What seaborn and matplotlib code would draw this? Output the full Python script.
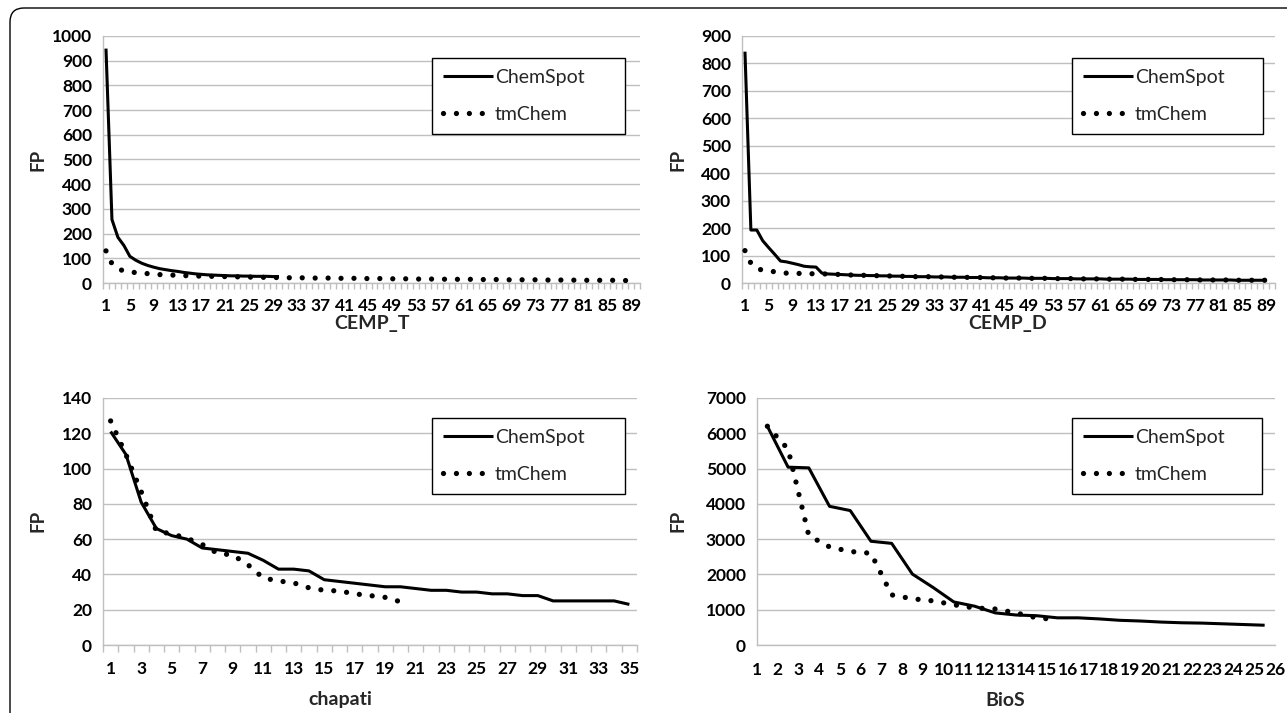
import matplotlib
matplotlib.use("Agg")
import matplotlib.pyplot as plt
import seaborn as sns
import pandas as pd
import numpy as np
from matplotlib.patches import FancyBboxPatch
from matplotlib.transforms import IdentityTransform
from matplotlib.ticker import FixedLocator, NullFormatter

# ---------------- data ----------------
series_names = ["ChemSpot", "tmChem"]

cemp_t_chemspot = [949, 257, 185, 152, 108, 92, 80, 71, 64, 58, 54, 50, 47, 43, 40,
                   37, 35, 33, 32, 31, 30, 29, 29, 28, 28, 27, 27, 27, 26, 26]
cemp_t_tmchem = [130, 78, 57, 49, 45, 42, 40, 38, 36, 34, 33, 32, 31, 30, 29,
                 28, 28, 27, 27, 26, 26, 25, 25, 24, 24, 23, 23, 23, 22, 22,
                 22, 21, 21, 21, 21, 20, 20, 20, 20, 19, 19, 19, 19, 18, 18,
                 18, 18, 17, 17, 17, 17, 17, 16, 16, 16, 16, 16, 15, 15, 15,
                 15, 15, 14, 14, 14, 14, 14, 13, 13, 13, 13, 13, 13, 12, 12,
                 12, 12, 12, 12, 11, 11, 11, 11, 11, 11, 11, 10, 10, 10, 10]

cemp_d_chemspot = [843, 193, 193, 154, 129, 105, 80, 77, 72, 67, 61, 59, 58, 36,
                   33, 32, 31, 30, 29, 28, 28, 27, 27, 26, 26, 25, 25, 24, 24, 23,
                   23, 23, 22, 22, 22, 21, 21, 21, 20, 20, 20, 19, 19, 19, 18,
                   18, 18, 18, 17, 17, 17, 17, 16, 16, 16, 16, 15, 15, 15, 15,
                   15, 14, 14, 14, 14, 14, 13, 13, 13, 13, 13, 12, 12, 12, 12,
                   12, 12, 11, 11, 11, 11, 11, 11, 10, 10, 10, 10, 10, 10]
cemp_d_tmchem = [118, 72, 52, 47, 44, 41, 38, 36, 35, 35, 34, 34, 33, 33,
                 33, 32, 31, 30, 29, 28, 28, 27, 27, 26, 26, 25, 25, 24, 24, 23,
                 23, 23, 22, 22, 22, 21, 21, 21, 20, 20, 20, 19, 19, 19, 18,
                 18, 18, 18, 17, 17, 17, 17, 16, 16, 16, 16, 15, 15, 15, 15,
                 15, 14, 14, 14, 14, 14, 13, 13, 13, 13, 13, 12, 12, 12, 12,
                 12, 12, 11, 11, 11, 11, 11, 11, 10, 10, 10, 10, 10, 10]

chapati_chemspot = [121, 108, 81, 66, 62, 60, 55, 54, 53, 52, 48, 43, 43, 42, 37,
                    36, 35, 34, 33, 33, 32, 31, 31, 30, 30, 29, 29, 28, 28, 25,
                    25, 25, 25, 25, 23]
chapati_tmchem = [127, 108, 87, 64.5, 63, 60.5, 57, 52, 51, 45.5, 38, 36.3, 35.2,
                  32.4, 31, 30.6, 29, 28, 27, 24.5]

bios_chemspot = [6200, 5040, 5020, 3930, 3810, 2940, 2880, 2010, 1630, 1220, 1100,
                 910, 850, 830, 770, 770, 740, 700, 680, 650, 630, 620, 600, 580, 560]
bios_tmchem = [6200, 5550, 3100, 2780, 2650, 2600, 1420, 1310, 1250, 1140, 1050,
               1020, 910, 770, 720]

panel_titles = ["CEMP_T", "CEMP_D", "chapati", "BioS"]
y_ticks_list = [list(range(0, 1001, 100)), list(range(0, 901, 100)),
                list(range(0, 141, 20)), list(range(0, 7001, 1000))]

# ---------------- style ----------------
sns.set_style("white")
plt.rcParams["font.family"] = ["Lato", "DejaVu Sans"]

W, H = 1287, 713
fig = plt.figure(figsize=(W / 100, H / 100), dpi=100)

GRID = "#BFBFBF"


def axes_rect(l, r, t, b):
    return [l / W, (H - b) / H, (r - l) / W, (b - t) / H]


rect_px = [(103, 640, 36, 283), (742, 1275, 36, 283),
           (103, 637, 398, 645), (757, 1275, 398, 645)]
rects = [axes_rect(*r) for r in rect_px]

data = [(cemp_t_chemspot, cemp_t_tmchem), (cemp_d_chemspot, cemp_d_tmchem),
        (chapati_chemspot, chapati_tmchem), (bios_chemspot, bios_tmchem)]

n_cats = [90, 90, 35, 25]
label_step = [4, 4, 2, 1]
# pixel positions of axis titles
xtitle_pos = [(372, 324), (1008, 324), (340, 700), (1005, 700)]
fp_pos = [(38, 160), (678, 160), (38, 521), (678, 521)]
# legend boxes in pixels: left, right, top
leg_px = [(432, 625, 58), (1072, 1263, 58), (432, 625, 418), (1072, 1262, 418)]

TICK_FS = 12.5

for i, ax_rect in enumerate(rects):
    ax = fig.add_axes(ax_rect)
    cs, tm = data[i]
    n = n_cats[i]
    offset = 0.5 if i == 3 else 0.0  # BioS: points between label ticks
    df_cs = pd.DataFrame({"x": np.arange(1, len(cs) + 1) + offset, "FP": cs})
    df_tm = pd.DataFrame({"x": np.arange(1, len(tm) + 1) + offset, "FP": tm})
    sns.lineplot(data=df_cs, x="x", y="FP", ax=ax, color="black", lw=2.2,
                 label=series_names[0], zorder=3)
    sns.lineplot(data=df_tm, x="x", y="FP", ax=ax, color="black", lw=3.8,
                 label=series_names[1], zorder=4)
    l_tm = ax.lines[-1]
    l_tm.set_linestyle((0, (0.001, 2.45)))
    l_tm.set_dash_capstyle("round")
    ax.lines[0].set_solid_capstyle("butt")

    yt = y_ticks_list[i]
    ax.set_ylim(yt[0], yt[-1])
    ax.set_yticks(yt)
    ax.yaxis.grid(True, color=GRID, lw=1.0)
    ax.set_axisbelow(True)

    if i == 3:
        ax.set_xlim(1, 26)
        ax.set_xticks(range(1, 27))
        ax.set_xticklabels([str(k) for k in range(1, 27)])
        ax.tick_params(axis="x", which="major", length=5, width=1, color=GRID,
                       pad=7.5)
    else:
        ax.set_xlim(0.5, n + 0.5)
        labs = list(range(1, n + 1, label_step[i]))
        ax.set_xticks(labs)
        ax.set_xticklabels([str(k) for k in labs])
        ax.xaxis.set_minor_locator(FixedLocator(np.arange(0.5, n + 1.0, 1.0)))
        ax.xaxis.set_minor_formatter(NullFormatter())
        ax.tick_params(axis="x", which="major", length=0,
                       pad=10.5 if n > 50 else 11.5)
        ax.tick_params(axis="x", which="minor", length=5 if n < 50 else 4,
                       width=1, color=GRID, direction="out", bottom=True)

    ax.tick_params(axis="y", length=4, width=1, color=GRID, pad=4)
    for lab in ax.get_xticklabels() + ax.get_yticklabels():
        lab.set_fontweight("bold")
        lab.set_fontsize(TICK_FS)
        lab.set_color("black")

    for s in ["top", "right"]:
        ax.spines[s].set_visible(False)
    for s in ["left", "bottom"]:
        ax.spines[s].set_color(GRID)
        ax.spines[s].set_linewidth(1.0)

    ax.set_ylabel("")
    ax.set_xlabel("")
    tx, ty = xtitle_pos[i]
    fig.text(tx / W, 1 - ty / H, panel_titles[i], fontsize=14, fontweight="bold",
             ha="center", va="center")
    fx, fy = fp_pos[i]
    fig.text(fx / W, 1 - fy / H, "FP", fontsize=13.5, fontweight="bold",
             ha="center", va="center", rotation=90)

    al, ar, at, ab = rect_px[i]
    ll, lr, lt = leg_px[i]
    x0 = (ll - al) / (ar - al)
    wfrac = (lr - ll) / (ar - al)
    y1 = (ab - lt) / (ab - at)
    leg = ax.legend(loc="upper left", bbox_to_anchor=(x0, y1 - 0.4, wfrac, 0.4),
                    mode="expand", frameon=True, fancybox=False, framealpha=1,
                    edgecolor="black", fontsize=14, handlelength=2.55,
                    handletextpad=0.12, labelspacing=1.0, borderpad=0.57,
                    borderaxespad=0)
    leg.get_frame().set_linewidth(1.0)

# outer rounded frame (cut at right and bottom)
frame = FancyBboxPatch((10, -40), 1320, 745,
                       boxstyle="round,pad=0,rounding_size=14",
                       transform=IdentityTransform(), fill=False,
                       edgecolor="black", lw=1.0)
fig.add_artist(frame)

fig.savefig("out.png", dpi=100)
